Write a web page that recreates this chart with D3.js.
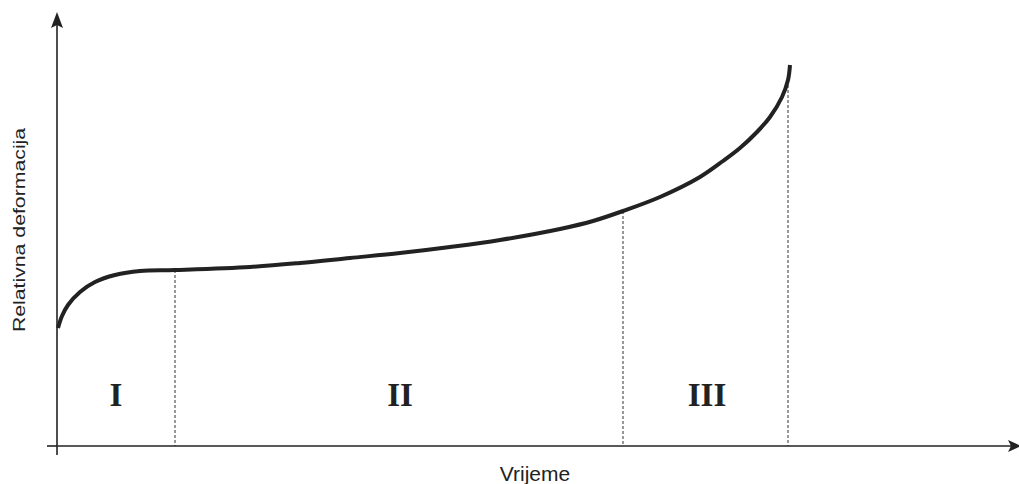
<!DOCTYPE html>
<html>
<head>
<meta charset="utf-8">
<script src="https://cdn.jsdelivr.net/npm/d3@7"></script>
<style>
  html, body { margin: 0; padding: 0; background: #fff; }
  svg { display: block; }
</style>
</head>
<body>
<svg id="chart" width="1019" height="484"></svg>
<script>
// Data (time in arbitrary units, relative deformation in arbitrary units)
const timeValues = [1, 5, 11, 23, 38, 58, 83, 118, 193, 243, 293, 343, 393, 443, 503, 536, 566, 603, 643, 666, 683, 700, 713, 725, 731, 733];
const strainValues = [118, 130, 141, 154, 164, 171, 175, 176, 179, 183, 188, 193, 199, 206, 217, 225, 235, 249, 269, 285, 298, 314, 329, 349, 366, 381];
const stageBoundaries = [118, 566, 731];
const stageLabels = ["I", "II", "III"];
const stageLabelX = [59, 343, 650];
const xAxisTitle = "Vrijeme";
const yAxisTitle = "Relativna deformacija";

const svg = d3.select("#chart");
const x = d3.scaleLinear().domain([0, 950]).range([57, 1007]);
const y = d3.scaleLinear().domain([0, 436]).range([446, 10]);

const pts = timeValues.map((t, i) => [t, strainValues[i]]);
const interp = (t) => {
  for (let i = 0; i < pts.length - 1; i++) {
    if (t >= pts[i][0] && t <= pts[i + 1][0]) {
      const f = (t - pts[i][0]) / (pts[i + 1][0] - pts[i][0]);
      return pts[i][1] + f * (pts[i + 1][1] - pts[i][1]);
    }
  }
  return pts[pts.length - 1][1];
};

// dashed stage boundaries
svg.selectAll("line.stage").data(stageBoundaries).enter().append("line")
  .attr("x1", d => x(d)).attr("x2", d => x(d))
  .attr("y1", d => y(interp(d))).attr("y2", y(0))
  .attr("stroke", "#333").attr("stroke-width", 1)
  .attr("stroke-dasharray", "3,2");

// axes
const axisColor = "#222";
svg.append("line").attr("x1", x(0)).attr("x2", 1013).attr("y1", y(0)).attr("y2", y(0))
  .attr("stroke", axisColor).attr("stroke-width", 1.6);
svg.append("line").attr("x1", x(-10)).attr("x2", x(0)).attr("y1", y(0)).attr("y2", y(0))
  .attr("stroke", axisColor).attr("stroke-width", 1.6);
svg.append("line").attr("x1", x(0)).attr("x2", x(0)).attr("y1", y(-9)).attr("y2", 24)
  .attr("stroke", axisColor).attr("stroke-width", 1.6);
// arrowheads
svg.append("path")
  .attr("d", `M${x(0)},12 L${x(0)+6},28 L${x(0)},25 L${x(0)-6},28 Z`)
  .attr("fill", axisColor);
svg.append("path")
  .attr("d", `M1021,${y(0)} L1008,${y(0)-6} L1011,${y(0)} L1008,${y(0)+6} Z`)
  .attr("fill", axisColor);

// curve
const line = d3.line().x(d => x(d[0])).y(d => y(d[1])).curve(d3.curveCatmullRom.alpha(0.5));
svg.append("path").datum(pts).attr("d", line)
  .attr("fill", "none").attr("stroke", "#222").attr("stroke-width", 4)
  .attr("stroke-linecap", "butt");

// stage labels
svg.selectAll("text.stage").data(stageLabels).enter().append("text")
  .attr("x", (d, i) => x(stageLabelX[i])).attr("y", 406)
  .attr("text-anchor", "middle")
  .attr("font-family", "'Liberation Serif', 'Times New Roman', serif")
  .attr("font-weight", "bold").attr("font-size", 33)
  .attr("fill", "#222")
  .text(d => d);

// axis titles
svg.append("text").attr("x", 535).attr("y", 481)
  .attr("text-anchor", "middle")
  .attr("font-family", "'Liberation Sans', Arial, sans-serif")
  .attr("font-size", 21).attr("fill", "#222")
  .text(xAxisTitle);
svg.append("text")
  .attr("transform", "translate(25,230) rotate(-90) scale(1.25,1)")
  .attr("text-anchor", "middle")
  .attr("font-family", "'Liberation Sans', Arial, sans-serif")
  .attr("font-size", 17).attr("fill", "#222")
  .text(yAxisTitle);
</script>
</body>
</html>
